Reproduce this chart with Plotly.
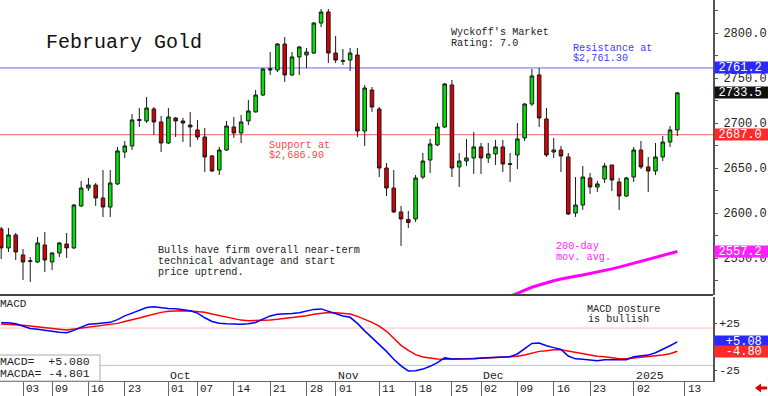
import pandas as pd
import plotly.graph_objects as go

# ---------------- data ----------------
holidays = ["2024-09-02", "2024-11-28", "2024-12-25", "2025-01-01"]
dates = [d.strftime("%Y-%m-%d") for d in pd.bdate_range("2024-08-28", "2025-01-10")
         if d.strftime("%Y-%m-%d") not in holidays]
future_days = ["2025-01-13", "2025-01-14", "2025-01-15", "2025-01-16", "2025-01-17"]

open_ = [2582.3, 2561.2, 2575.6, 2553.4, 2546.2, 2545.6, 2564.5, 2545.6, 2555.6, 2565.6,
         2561.2, 2607.8, 2627.8, 2631.1, 2616.7, 2606.7, 2632.3, 2667.8, 2674.5, 2703.9,
         2702.3, 2715.6, 2701.2, 2677.8, 2705.6, 2702.3, 2697.8, 2692.3, 2684.5, 2663.4,
         2647.8, 2670.0, 2695.6, 2688.9, 2702.3, 2712.3, 2731.1, 2760.4, 2758.9, 2787.8,
         2753.4, 2773.4, 2775.6, 2777.8, 2811.1, 2823.4, 2777.8, 2768.6, 2770.0, 2775.6,
         2691.1, 2736.7, 2715.6, 2650.0, 2627.8, 2601.2, 2592.8, 2593.4, 2640.0, 2658.9,
         2675.6, 2695.6, 2742.3, 2651.2, 2657.8, 2661.2, 2673.4, 2661.2, 2665.6, 2673.4,
         2654.8, 2664.5, 2683.4, 2721.1, 2753.4, 2704.5, 2667.8, 2670.0, 2662.3, 2600.0,
         2608.9, 2638.9, 2628.9, 2637.8, 2653.4, 2634.5, 2618.9, 2640.0, 2670.0, 2651.2,
         2646.7, 2662.3, 2678.9, 2692.3]
high = [2584.5, 2583.4, 2577.8, 2560.0, 2551.1, 2573.4, 2578.9, 2556.7, 2567.8, 2577.8,
        2610.0, 2635.6, 2638.9, 2633.4, 2647.8, 2647.8, 2673.4, 2680.0, 2710.0, 2716.7,
        2728.9, 2717.8, 2707.8, 2716.7, 2706.7, 2705.6, 2712.3, 2703.4, 2694.5, 2664.5,
        2673.4, 2702.3, 2706.7, 2708.9, 2725.6, 2736.7, 2761.1, 2778.9, 2788.9, 2795.6,
        2778.9, 2785.6, 2783.4, 2812.3, 2826.7, 2826.7, 2796.7, 2782.3, 2783.4, 2783.4,
        2742.3, 2740.0, 2717.8, 2655.6, 2647.8, 2607.8, 2602.3, 2642.3, 2666.7, 2682.3,
        2700.0, 2744.5, 2747.8, 2666.7, 2682.3, 2690.0, 2677.8, 2677.8, 2681.2, 2681.2,
        2666.7, 2700.0, 2722.3, 2760.0, 2761.1, 2716.7, 2683.4, 2674.5, 2666.7, 2640.0,
        2652.3, 2644.5, 2635.6, 2655.6, 2653.4, 2639.0, 2640.0, 2673.4, 2680.0, 2662.3,
        2677.8, 2685.6, 2696.7, 2734.5]
low = [2548.9, 2556.7, 2547.8, 2525.6, 2523.4, 2544.5, 2534.5, 2536.7, 2551.1, 2550.0,
       2560.0, 2606.7, 2624.5, 2607.8, 2595.6, 2595.6, 2631.1, 2661.1, 2670.0, 2695.6,
       2700.0, 2686.7, 2667.8, 2676.7, 2684.5, 2678.9, 2673.4, 2681.2, 2645.6, 2645.6,
       2642.3, 2668.9, 2683.4, 2677.8, 2697.8, 2711.7, 2730.0, 2753.4, 2756.7, 2745.6,
       2752.3, 2753.4, 2761.1, 2776.7, 2806.7, 2766.7, 2766.7, 2764.5, 2757.8, 2684.5,
       2674.5, 2712.3, 2640.0, 2618.9, 2600.0, 2563.4, 2583.4, 2590.0, 2637.8, 2644.5,
       2674.5, 2694.5, 2640.0, 2628.9, 2652.3, 2643.4, 2643.4, 2655.6, 2653.4, 2645.6,
       2634.5, 2648.9, 2680.0, 2718.9, 2695.6, 2662.3, 2661.1, 2645.6, 2597.8, 2595.6,
       2603.4, 2621.2, 2623.4, 2633.4, 2624.5, 2603.4, 2617.8, 2634.5, 2649.0, 2623.4,
       2642.3, 2657.8, 2673.4, 2685.6]
close = [2561.2, 2575.6, 2556.7, 2545.6, 2546.9, 2566.7, 2547.8, 2555.6, 2566.7, 2561.2,
         2608.9, 2627.8, 2631.1, 2616.7, 2606.7, 2633.4, 2669.0, 2674.5, 2703.4, 2702.8,
         2716.7, 2701.2, 2677.8, 2706.7, 2702.3, 2700.0, 2695.6, 2684.5, 2662.3, 2646.7,
         2670.0, 2696.7, 2688.9, 2701.2, 2713.4, 2731.1, 2760.0, 2759.0, 2787.8, 2753.4,
         2773.4, 2784.5, 2778.9, 2811.1, 2823.4, 2777.8, 2770.0, 2769.3, 2777.8, 2691.1,
         2738.9, 2717.8, 2650.0, 2627.8, 2601.2, 2593.4, 2589.5, 2638.9, 2657.8, 2676.7,
         2695.6, 2743.4, 2650.0, 2657.8, 2661.2, 2673.4, 2661.2, 2665.6, 2673.4, 2654.5,
         2654.1, 2682.3, 2721.1, 2752.3, 2705.6, 2664.5, 2670.0, 2663.4, 2598.9, 2608.9,
         2640.0, 2628.9, 2632.3, 2652.3, 2636.7, 2618.9, 2639.0, 2670.0, 2651.2, 2646.7,
         2662.3, 2678.9, 2692.3, 2733.5]

ma200 = [2504.0, 2507.5, 2511.0, 2514.5, 2517.5, 2520.0, 2522.5, 2524.7, 2526.6, 2528.4,
         2529.8, 2531.1, 2532.7, 2534.2, 2536.0, 2537.9, 2539.9, 2542.1, 2544.3, 2546.3,
         2548.2, 2550.3, 2552.4, 2554.6, 2557.2]

macd = [25.7, 25.7, 24.5, 22.0, 19.5, 18.8, 17.5, 16.5, 15.5, 15.0,
        17.5, 21.0, 24.0, 24.7, 25.5, 26.1, 29.0, 33.0, 36.0, 39.0,
        42.0, 42.8, 41.5, 40.9, 40.6, 39.5, 38.6, 36.0, 31.0, 27.0,
        25.2, 24.5, 24.0, 24.0, 24.5, 26.0, 29.5, 33.0, 34.8, 35.0,
        35.5, 36.3, 38.0, 40.0, 40.5, 38.0, 35.0, 33.0, 31.5, 25.0,
        17.0, 10.0, 2.5, -5.0, -13.5, -20.5, -26.0, -25.8, -24.0, -21.0,
        -17.0, -12.0, -13.2, -13.2, -13.2, -12.8, -12.2, -12.0, -11.6, -11.2,
        -10.8, -7.8, -2.5, 3.5, 4.0, 1.0, -1.0, -3.0, -10.0, -13.0,
        -13.5, -14.2, -15.0, -14.0, -13.8, -14.3, -14.0, -10.7, -10.0, -9.0,
        -6.5, -3.0, 1.0, 5.08]
macd_avg = [24.3, 24.0, 23.5, 23.0, 22.2, 21.5, 20.5, 19.5, 18.7, 17.9,
            18.8, 20.2, 21.0, 22.0, 22.7, 23.3, 25.0, 27.0, 28.6, 30.8,
            33.0, 35.3, 36.8, 38.0, 38.4, 38.6, 38.3, 37.6, 36.9, 35.0,
            33.3, 31.5, 30.0, 28.5, 27.9, 27.9, 27.9, 28.6, 29.3, 30.1,
            31.2, 32.2, 33.2, 34.8, 36.0, 36.7, 36.5, 35.8, 35.0, 32.5,
            29.3, 26.1, 22.0, 16.5, 9.0, 1.5, -4.0, -8.5, -11.0, -12.5,
            -13.3, -13.5, -13.5, -13.3, -13.0, -12.7, -12.4, -12.1, -11.9, -11.6,
            -11.3, -10.3, -9.0, -7.0, -5.0, -4.3, -3.2, -3.3, -4.8, -6.5,
            -7.8, -9.0, -10.2, -10.8, -11.9, -12.8, -13.0, -12.3, -11.5, -10.8,
            -10.0, -9.0, -7.5, -4.80]

resistance = 2761.2
support = 2687.0
last_price = 2733.5
ma_last = 2557.2
macd_last = 5.080
macda_last = -4.801

price_ticks = [2550, 2600, 2650, 2700, 2750, 2800]
price_tick_text = ["2550.0", "2600.0", "2650.0", "2700.0", "2750.0", "2800.0"]
tick_dates = ["2024-09-03", "2024-09-09", "2024-09-16", "2024-09-23", "2024-10-01",
              "2024-10-07", "2024-10-14", "2024-10-21", "2024-10-28", "2024-11-01",
              "2024-11-11", "2024-11-18", "2024-11-25", "2024-12-02", "2024-12-09",
              "2024-12-16", "2024-12-23", "2025-01-02", "2025-01-13"]
month_labels = ["Oct", "Nov", "Dec", "2025"]
month_dates = ["2024-10-01", "2024-11-01", "2024-12-02", "2025-01-02"]

# ---------------- layout helpers ----------------
W, H = 713.0, 381.0          # plot area in px (margins: r=55, b=15)
MAIN_BOTTOM = 295.0
MACD_TOP = 297.0


def px(x):
    return x / W


def py(y):
    return 1 - y / H


MONO = "Liberation Mono"

fig = go.Figure()

fig.add_trace(go.Candlestick(
    x=dates, open=open_, high=high, low=low, close=close,
    increasing=dict(fillcolor="#00e600", line=dict(color="#1a1a1a", width=1)),
    decreasing=dict(fillcolor="#dc0000", line=dict(color="#1a1a1a", width=1)),
    xaxis="x", yaxis="y", showlegend=False, hoverinfo="skip"))

fig.add_trace(go.Scatter(
    x=dates[-len(ma200):], y=ma200, mode="lines",
    line=dict(color="#ff00ff", width=3), xaxis="x", yaxis="y",
    showlegend=False, hoverinfo="skip"))

fig.add_trace(go.Scatter(
    x=dates, y=macd_avg, mode="lines", line=dict(color="#ff0000", width=1.5),
    xaxis="x", yaxis="y2", showlegend=False, hoverinfo="skip"))
fig.add_trace(go.Scatter(
    x=dates, y=macd, mode="lines", line=dict(color="#0000ff", width=1.5),
    xaxis="x", yaxis="y2", showlegend=False, hoverinfo="skip"))

shapes = [
    dict(type="line", xref="paper", yref="y", x0=0, x1=1, y0=resistance, y1=resistance,
         line=dict(color="#6464ff", width=1), layer="below"),
    dict(type="line", xref="paper", yref="y", x0=0, x1=1, y0=support, y1=support,
         line=dict(color="#f06464", width=1), layer="below"),
    dict(type="line", xref="paper", yref="y2", x0=0, x1=1, y0=20, y1=20,
         line=dict(color="#ffbcbc", width=1), layer="below"),
    dict(type="line", xref="paper", yref="y2", x0=0, x1=1, y0=-20, y1=-20,
         line=dict(color="#bcbcff", width=1), layer="below"),
    dict(type="line", xref="paper", yref="paper", x0=0, x1=1,
         y0=py(MAIN_BOTTOM), y1=py(MAIN_BOTTOM), line=dict(color="#444444", width=2)),
    dict(type="rect", xref="paper", yref="paper", x0=px(-2), x1=px(100),
         y0=py(381), y1=py(355), fillcolor="white", line=dict(color="#aaaaaa", width=1)),
]
# red arrow bottom right
arrow_pts = [(755, 388), (761, 383.5), (761, 386.5), (767, 386.5), (767, 389.5),
             (761, 389.5), (761, 392.5)]
path = "M " + " L ".join(f"{px(a):.5f},{py(b):.5f}" for a, b in arrow_pts) + " Z"
shapes.append(dict(type="path", xref="paper", yref="paper", path=path,
                   fillcolor="#e00000", line=dict(color="#e00000", width=0)))

annotations = []


def note(text, x, y, color="#222222", size=10.2):
    annotations.append(dict(text=text, x=px(x), y=py(y), xref="paper", yref="paper",
                            xanchor="left", yanchor="middle", showarrow=False,
                            font=dict(family=MONO, size=size, color=color)))


note("February Gold", 44, 43, "#111111", 20)
note("Wyckoff's Market", 449, 32.5)
note("Rating: 7.0", 449, 43.5)
note("Resistance at", 570.5, 48, "#3c3cff")
note("$2,761.30", 570.5, 58.5, "#3c3cff")
note("Support at", 267, 145, "#ff4646")
note("$2,686.90", 267, 155.5, "#ff4646")
note("Bulls have firm overall near-term", 156, 250)
note("technical advantage and start", 156, 261)
note("price uptrend.", 156, 272)
note("200-day", 554, 246.5, "#ff22ff")
note("mov. avg.", 554, 257, "#ff22ff")
note("MACD posture", 585, 309)
note("is bullish", 586, 319)
note("MACD", -2, 304, "#222222", 11)
note("MACD=\u00a0\u00a0" + f"{macd_last:+.3f}", -2, 361.7, "#222222", 11.5)
note("MACDA=\u00a0" + f"{macda_last:+.3f}", -2, 373.3, "#222222", 11.5)

for lab, d in zip(month_labels, month_dates):
    annotations.append(dict(text=lab, x=d, y=py(375), xref="x", yref="paper",
                            xanchor="left", yanchor="middle", xshift=0, showarrow=False,
                            font=dict(family=MONO, size=11.5, color="#222222")))
for d in tick_dates:
    annotations.append(dict(text=d[-2:], x=d, y=py(389), xref="x", yref="paper",
                            xanchor="left", yanchor="middle", xshift=1, showarrow=False,
                            font=dict(family=MONO, size=11, color="#222222")))


def price_box(value, fmt, yref, bg):
    annotations.append(dict(text=fmt.format(value) + "\u00a0", x=1, y=value, xref="paper", yref=yref,
                            xanchor="left", yanchor="middle", xshift=1, showarrow=False,
                            width=54, height=11, align="right", borderpad=0, bgcolor=bg,
                            font=dict(family=MONO, size=12, color="white")))


price_box(resistance, "{:.1f}", "y", "#2a2aff")
price_box(last_price, "{:.1f}", "y", "#111111")
price_box(support, "{:.1f}", "y", "#ff2a2a")
price_box(ma_last, "{:.1f}", "y", "#ff22ff")
price_box(macd_last, "{:+.2f}", "y2", "#2a2aff")
price_box(macda_last, "{:+.2f}", "y2", "#ff2a2a")

macd_lo = -36.76
macd_hi = 53.27

fig.update_layout(
    width=768, height=396,
    margin=dict(l=0, r=55, t=0, b=15, pad=0),
    paper_bgcolor="white", plot_bgcolor="white",
    showlegend=False,
    xaxis=dict(type="category", categoryorder="array", categoryarray=dates + future_days,
               range=[-0.164, 97.91], anchor="y2", domain=[0, 1],
               showgrid=False, zeroline=False, showline=True, linecolor="#666666", linewidth=1,
               ticks="outside", ticklen=15, tickwidth=1, tickcolor="#666666",
               tickvals=tick_dates, showticklabels=False,
               rangeslider=dict(visible=False), fixedrange=True),
    yaxis=dict(domain=[py(MAIN_BOTTOM), 1], range=[2508.9, 2836.7], side="right", anchor="x",
               showgrid=False, zeroline=False, showline=True, linecolor="#555555", linewidth=2,
               ticks="outside", ticklen=3, tickcolor="#555555",
               tickvals=price_ticks, ticktext=price_tick_text,
               minor=dict(dtick=25, tick0=2500, ticks="outside", ticklen=3, tickcolor="#555555"),
               ticklabelstandoff=3,
               tickfont=dict(family=MONO, size=12, color="#222222")),
    yaxis2=dict(domain=[0, py(MACD_TOP)], range=[macd_lo, macd_hi], side="right", anchor="x",
                showgrid=False, zeroline=False, showline=True, linecolor="#555555", linewidth=2,
                ticks="outside", ticklen=2, tickcolor="#555555",
                tickvals=[-25, 25], ticktext=["-25", "+25"],
                tickfont=dict(family=MONO, size=11.5, color="#222222")),
    shapes=shapes,
    annotations=annotations,
)

fig.write_html("out.html", config={"displayModeBar": False},
               post_script="document.body.style.margin='0';document.body.style.overflow='hidden';")
